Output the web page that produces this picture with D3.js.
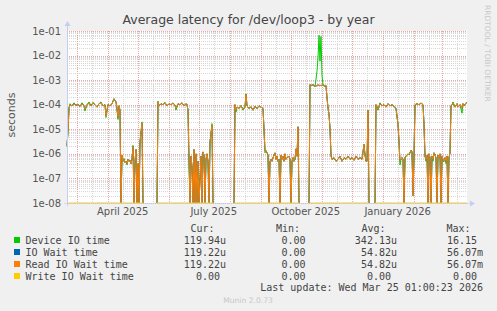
<!DOCTYPE html>
<html>
<head>
<meta charset="utf-8">
<script src="https://cdn.jsdelivr.net/npm/d3@7"></script>
<style>
body { margin: 0; background: #f0f0f0; }
svg { display: block; }
text { font-family: "DejaVu Sans", sans-serif; }
.mono { font-family: "DejaVu Sans Mono", monospace; font-size: 10px; fill: #444; white-space: pre; }
</style>
</head>
<body>
<script>
// day offsets from the start of the graph (one pixel ~ one day)
var days = [
    0, 1, 2, 3, 5, 7, 9, 11, 13, 15, 17, 18, 20, 22, 24, 26, 28, 30, 32, 34, 36, 38, 39, 41, 43, 45, 47, 49, 50, 51, 52, 53,
    54, 55, 56, 57, 58, 59, 60, 61, 62, 63, 64, 65, 66, 67, 68, 69, 70, 71, 72, 73, 75, 76, 77, 90,
    91, 92, 94, 96, 98, 100, 102, 104, 106, 108, 109, 111, 113, 115, 117, 119, 120, 121,
    122, 123, 124, 125, 126, 127, 128, 129, 130, 131, 132, 134, 135, 136, 137, 138, 139, 140, 141, 142, 143, 145, 146, 147, 167,
    168, 169, 170, 172, 174, 176, 178, 179, 180, 182, 184, 186, 188, 190, 192, 194, 196, 197,
    198, 199, 200, 201, 202, 203, 204, 205, 206, 208, 209, 210, 211, 212, 213, 214, 215, 216, 217, 218, 219, 220, 222, 223, 224, 225, 226, 227, 228, 229, 230, 231, 232, 233, 242,
    243, 244, 246, 248, 250, 251, 252, 253, 254, 255, 256, 257, 258, 259, 260, 261, 262, 263,
    264, 265, 267, 269, 271, 273, 275, 277, 279, 281, 283, 285, 287, 289, 291, 293, 295, 297, 298, 299, 300, 301, 302, 303, 308,
    309, 310, 311, 313, 315, 317, 319, 321, 323, 325, 327, 329, 331, 332, 333, 334, 335, 336, 337, 338, 339, 341, 342, 344, 345, 346, 347,
    348, 350, 352, 354, 356, 357, 358, 359, 360, 361, 362, 363, 364, 365, 366, 367, 368, 369, 370, 371, 372, 373, 374, 375, 376, 377, 378, 379, 380, 381, 382, 383,
    384, 385, 386, 388, 390, 391, 393, 395, 396, 397, 399, 400
];

var deviceIO = [
    2.2e-6, 9e-6, 8e-5, 1.1e-4, 9e-5, 1.2e-4, 9.5e-5, 1.05e-4, 8.5e-5, 1.2e-4, 9e-5, 5.5e-5, 1.0e-4, 1.3e-4, 9e-5, 1.25e-4, 1.0e-4, 8e-5, 1.1e-4, 1.3e-4, 9e-5, 1.0e-4, 3e-5, 1.05e-4, 9e-5, 1.1e-4, 1.8e-4, 1.3e-4, 6e-5, 2.5e-5, 9e-5, 6e-5,
    0, 7e-7, 5e-7, 6.5e-7, 4.5e-7, 5e-7, 3.5e-7, 6e-7, 5e-7, 5.5e-7, 4e-7, 6e-7, 2.2e-6, 0, 5e-7, 1.5e-6, 0, 4e-7, 0, 3e-6, 2e-5, 0, null, 0,
    1.4e-4, 9e-5, 1.1e-4, 1.0e-4, 1.25e-4, 9e-5, 1.1e-4, 1.0e-4, 1.2e-4, 9.5e-5, 6e-5, 1.1e-4, 1.0e-4, 1.2e-4, 9e-5, 1.1e-4, 1.0e-4, 6e-5,
    4e-7, 0, 8e-7, 3e-7, 0, 1.5e-6, 0, 1e-6, 0, 5e-7, 0, 8e-7, 0, 1.2e-6, 9e-7, 0, 6e-7, 1e-6, 5e-7, 0, 3e-6, 1.7e-5, 0, null, 0,
    1.0e-4, 5e-5, 8e-5, 7e-5, 9.5e-5, 6e-5, 8e-5, 2.8e-4, 9e-5, 7e-5, 8.5e-5, 6e-5, 8.5e-5, 7e-5, 9e-5, 8e-5, 7e-5, 1e-5,
    1.1e-6, 1.3e-6, 1.1e-6, 9e-7, 0, 5e-7, 6e-7, 5e-7, 7e-7, 1.1e-6, 6e-7, 8e-7, 5e-7, 6e-7, 0, 9e-7, 6e-7, 8e-7, 5e-7, 1e-6, 6e-7, 7e-7, 8e-7, 6e-7, 0, 5e-7, 7e-7, 5e-7, 6e-7, 1.6e-6, 8e-7, 1.3e-5, 0, null, 0,
    6.5e-4, 6e-4, 6.5e-4, 5.5e-4, 2.3e-3, 8e-3, 6.7e-2, 6e-3, 6e-2, 1.5e-3, 6.5e-4, 6e-4, 5.5e-4, 6e-4, 1.9e-4, 7.5e-5, 4e-5, 1.1e-5,
    1e-6, 6e-7, 7e-7, 5e-7, 6e-7, 8e-7, 5e-7, 7e-7, 6e-7, 8e-7, 6e-7, 7e-7, 5.5e-7, 8e-7, 6e-7, 7e-7, 6e-7, 2.4e-6, 9e-7, 5e-7, 5e-7, 6e-5, 0, null, 0,
    1.0e-4, 8e-5, 6e-5, 1.2e-4, 9e-5, 1.0e-4, 8e-5, 1.1e-4, 9e-5, 1.0e-4, 8.5e-5, 7e-5, 1.6e-5, 3e-6, 3.5e-7, 6e-7, 7e-7, 6e-7, 0, 7e-7, 8e-7, 1e-6, 9e-7, 1.4e-6, 1.2e-6, 2e-8, 8e-7,
    1.0e-4, 1.1e-4, 1.0e-4, 1.2e-4, 1.0e-4, 1.6e-5, 8e-7, 5e-7, 9e-7, 0, 1e-6, 7e-7, 0, 8e-7, 5e-7, 1.1e-6, 9e-7, 7e-7, 0, 9e-7, 7e-7, 1e-6, 0, 8e-7, 5e-7, 5e-7, 7e-7, 4e-7, 8e-7, 0, 7e-7, 1.1e-6,
    9e-5, 1.0e-4, 1.3e-4, 8e-5, 1.1e-4, 8e-5, 1.0e-4, 4.5e-5, 1.1e-4, 9e-5, 1.2e-4, 1.2e-4
];

var readWait = [
    2e-6, 8e-6, 7e-5, 1.0e-4, 9e-5, 1.1e-4, 9.5e-5, 1.0e-4, 8.5e-5, 1.1e-4, 9e-5, 6.5e-5, 1.0e-4, 1.15e-4, 9e-5, 1.2e-4, 1.0e-4, 8e-5, 1.1e-4, 1.2e-4, 9e-5, 1.0e-4, 3.5e-5, 1.0e-4, 9e-5, 1.1e-4, 1.7e-4, 1.3e-4, 7e-5, 3e-5, 9e-5, 6e-5,
    0, 9e-7, 5e-7, 6e-7, 4.5e-7, 5e-7, 4e-7, 6e-7, 5e-7, 5.5e-7, 4e-7, 6e-7, 2e-6, 0, 5e-7, 1.5e-6, 0, 4e-7, 0, 3e-6, 1.8e-5, 0, null, 0,
    1.3e-4, 9e-5, 1.1e-4, 1.0e-4, 1.2e-4, 9e-5, 1.1e-4, 1.0e-4, 1.15e-4, 9.5e-5, 7e-5, 1.1e-4, 1.0e-4, 1.2e-4, 9e-5, 1.1e-4, 1.0e-4, 6e-5,
    6e-7, 0, 8e-7, 3e-7, 0, 1.5e-6, 0, 1e-6, 0, 5e-7, 0, 8e-7, 0, 1.2e-6, 9e-7, 0, 6e-7, 1e-6, 5e-7, 0, 3e-6, 1.5e-5, 0, null, 0,
    1.0e-4, 6e-5, 8e-5, 7e-5, 9e-5, 6.5e-5, 8e-5, 2.7e-4, 9e-5, 7e-5, 8e-5, 6e-5, 8.5e-5, 7e-5, 9e-5, 8e-5, 7e-5, 1e-5,
    1.3e-6, 1.4e-6, 1.1e-6, 9e-7, 0, 5e-7, 6e-7, 5e-7, 7e-7, 1.1e-6, 6e-7, 8e-7, 5e-7, 6e-7, 0, 9e-7, 6e-7, 8e-7, 5e-7, 1e-6, 6e-7, 7e-7, 8e-7, 6e-7, 0, 5e-7, 7e-7, 5e-7, 6e-7, 1.6e-6, 8e-7, 1.2e-5, 0, null, 0,
    6.5e-4, 6e-4, 6.5e-4, 5.5e-4, 6e-4, 6.5e-4, 6e-4, 6e-4, 6.2e-4, 6e-4, 6.5e-4, 6e-4, 5.5e-4, 6e-4, 1.9e-4, 7.5e-5, 4e-5, 1.1e-5,
    8e-7, 6e-7, 7e-7, 5e-7, 6e-7, 8e-7, 5e-7, 7e-7, 6e-7, 8e-7, 6e-7, 7e-7, 5.5e-7, 8e-7, 6e-7, 7e-7, 6e-7, 2.4e-6, 9e-7, 5e-7, 5e-7, 6e-5, 0, null, 0,
    1.0e-4, 8e-5, 6.5e-5, 1.1e-4, 9e-5, 1.0e-4, 8e-5, 1.1e-4, 9e-5, 1.0e-4, 8.5e-5, 7e-5, 1.6e-5, 3e-6, 5e-7, 6e-7, 7e-7, 6e-7, 0, 7e-7, 8e-7, 1e-6, 9e-7, 1.4e-6, 1.2e-6, 2e-8, 8e-7,
    1.0e-4, 1.1e-4, 1.0e-4, 1.15e-4, 1.0e-4, 1.6e-5, 8e-7, 6e-7, 9e-7, 0, 1e-6, 7e-7, 0, 8e-7, 6e-7, 1.1e-6, 9e-7, 7e-7, 0, 9e-7, 7e-7, 1e-6, 0, 8e-7, 6e-7, 5e-7, 7e-7, 5e-7, 8e-7, 0, 7e-7, 1.1e-6,
    9e-5, 1.0e-4, 1.2e-4, 8e-5, 1.1e-4, 8e-5, 1.0e-4, 7e-5, 1.1e-4, 9e-5, 1.2e-4, 1.19e-4
];

// IO wait is the same as read wait (same cur/avg/max), write wait is always 0
var ioWait = readWait.slice();
var writeWait = readWait.map(function (v) { return v === null ? null : 0; });

var seriesNames = ["Device IO time", "IO Wait time", "Read IO Wait time", "Write IO Wait time"];
var seriesColors = ["#00cc00", "#0066b3", "#ff8000", "#ffcc00"];
var curValues = ["119.94u", "119.22u", "119.22u", "0.00 "];
var minValues = ["0.00 ", "0.00 ", "0.00 ", "0.00 "];
var avgValues = ["342.13u", "54.82u", "54.82u", "0.00 "];
var maxValues = ["16.15 ", "56.07m", "56.07m", "0.00 "];
var yTickValues = [1e-8, 1e-7, 1e-6, 1e-5, 1e-4, 1e-3, 1e-2, 1e-1];

var w = 497;
var h = 311;
var plotLeft = 67, plotRight = 467, plotTop = 31, plotBottom = 203;

var start = new Date(Date.UTC(2025, 1, 19, 7));
var end = d3.utcDay.offset(start, 400);

var x = d3.scaleUtc().domain([start, end]).range([plotLeft, plotRight]);
var y = d3.scaleLog().domain([1e-8, 1e-1]).range([plotBottom, plotTop]);

var yv = function (v) { return y(Math.max(v, 1e-8)); };

var svg = d3.select("body")
    .append("svg")
    .attr("width", w)
    .attr("height", h);

svg.append("rect")
    .attr("x", 0).attr("y", 0)
    .attr("width", w).attr("height", h)
    .attr("fill", "#f0f0f0");

svg.append("rect")
    .attr("x", plotLeft).attr("y", plotTop)
    .attr("width", plotRight - plotLeft).attr("height", plotBottom - plotTop)
    .attr("fill", "#ffffff");

// minor horizontal grid
var minorY = [];
yTickValues.slice(0, -1).forEach(function (d) {
    for (var m = 2; m <= 9; m++) minorY.push(d * m);
});

svg.selectAll(".hminor")
    .data(minorY)
    .enter()
    .append("line")
    .attr("x1", plotLeft).attr("x2", plotRight)
    .attr("y1", function (d) { return Math.round(y(d)) + 0.5; })
    .attr("y2", function (d) { return Math.round(y(d)) + 0.5; })
    .attr("stroke", "#d8d8d8")
    .attr("stroke-dasharray", "1,1");

// vertical grid: mid month grey, month start red
var midMonths = d3.utcMonth.range(d3.utcMonth.floor(start), end)
    .map(function (m) { return d3.utcDay.offset(m, 15); })
    .filter(function (d) { return d > start && d < end; });

svg.selectAll(".vminor")
    .data(midMonths)
    .enter()
    .append("line")
    .attr("x1", function (d) { return Math.round(x(d)) + 0.5; })
    .attr("x2", function (d) { return Math.round(x(d)) + 0.5; })
    .attr("y1", plotTop).attr("y2", plotBottom)
    .attr("stroke", "#d8d8d8")
    .attr("stroke-dasharray", "1,1");

svg.selectAll(".vmajor")
    .data(d3.utcMonth.range(start, end))
    .enter()
    .append("line")
    .attr("x1", function (d) { return Math.round(x(d)) + 0.5; })
    .attr("x2", function (d) { return Math.round(x(d)) + 0.5; })
    .attr("y1", plotTop).attr("y2", plotBottom)
    .attr("stroke", "#eba5a5")
    .attr("stroke-dasharray", "1,1");

svg.selectAll(".hmajor")
    .data(yTickValues)
    .enter()
    .append("line")
    .attr("x1", plotLeft).attr("x2", plotRight)
    .attr("y1", function (d) { return Math.round(y(d)) + 0.5; })
    .attr("y2", function (d) { return Math.round(y(d)) + 0.5; })
    .attr("stroke", "#eba5a5")
    .attr("stroke-dasharray", "1,1");

// y labels
svg.selectAll(".ylabel")
    .data(yTickValues)
    .enter()
    .append("text")
    .attr("x", 61)
    .attr("y", function (d) { return y(d) + 3.6; })
    .attr("text-anchor", "end")
    .attr("font-size", "10px")
    .attr("fill", "#555")
    .text(function (d) { return d3.format(".0e")(d).replace(/e-(\d)$/, "e-0$1"); });

// x labels, centered in the middle of the month
svg.selectAll(".xlabel")
    .data(d3.utcMonth.every(3).range(start, end))
    .enter()
    .append("text")
    .attr("x", function (d) { return x(d3.utcDay.offset(d, 15)); })
    .attr("y", 215)
    .attr("text-anchor", "middle")
    .attr("font-size", "10px")
    .attr("fill", "#555")
    .text(d3.utcFormat("%B %Y"));

// data lines
var line = d3.line()
    .defined(function (d) { return d.v !== null; })
    .x(function (d) { return x(d.t); })
    .y(function (d) { return yv(d.v); });

var allSeries = [deviceIO, ioWait, readWait, writeWait];

allSeries.forEach(function (values, k) {
    var rows = days.map(function (d, i) {
        return { t: d3.utcDay.offset(start, d), v: values[i] };
    });
    svg.append("path")
        .datum(rows)
        .attr("d", line)
        .attr("fill", "none")
        .attr("stroke", seriesColors[k])
        .attr("stroke-width", 1);
});

// axes with arrows
var axisColor = "#c5cdf0";
svg.append("line")
    .attr("x1", plotLeft + 0.5).attr("x2", plotLeft + 0.5)
    .attr("y1", plotBottom + 3).attr("y2", plotTop - 6)
    .attr("stroke", axisColor);
svg.append("path")
    .attr("d", "M" + (plotLeft - 2.5) + "," + (plotTop - 5) + "L" + (plotLeft + 3.5) + "," + (plotTop - 5) + "L" + (plotLeft + 0.5) + "," + (plotTop - 10) + "Z")
    .attr("fill", axisColor);
svg.append("line")
    .attr("x1", plotLeft - 3).attr("x2", plotRight + 4)
    .attr("y1", plotBottom + 0.5).attr("y2", plotBottom + 0.5)
    .attr("stroke", axisColor)
    .attr("stroke-opacity", 0.6);
svg.append("path")
    .attr("d", "M" + (plotRight + 3) + "," + (plotBottom - 2.5) + "L" + (plotRight + 3) + "," + (plotBottom + 3.5) + "L" + (plotRight + 8) + "," + (plotBottom + 0.5) + "Z")
    .attr("fill", axisColor);

// title and side texts
svg.append("text")
    .attr("x", 248.5)
    .attr("y", 24)
    .attr("text-anchor", "middle")
    .attr("font-size", "12.5px")
    .attr("fill", "#444")
    .text("Average latency for /dev/loop3 - by year");

svg.append("text")
    .attr("transform", "translate(15,115) rotate(-90)")
    .attr("text-anchor", "middle")
    .attr("font-size", "11px")
    .attr("fill", "#555")
    .text("seconds");

svg.append("text")
    .attr("transform", "translate(485,5) rotate(90)")
    .attr("font-size", "7.5px")
    .attr("fill", "#c8c8c8")
    .text("RRDTOOL / TOBI OETIKER");

// legend
var headers = [["Cur:", 190.5], ["Min:", 276], ["Avg:", 361.5], ["Max:", 446.5]];
headers.forEach(function (hd) {
    svg.append("text").attr("class", "mono")
        .attr("x", hd[1]).attr("y", 231.5)
        .text(hd[0]);
});

var columnEnds = [226, 311.5, 397, 483];
var columns = [curValues, minValues, avgValues, maxValues];

seriesNames.forEach(function (name, i) {
    var cy = 240 + i * 12;
    svg.append("rect")
        .attr("x", 14).attr("y", cy - 3)
        .attr("width", 6).attr("height", 6)
        .attr("fill", seriesColors[i]);
    svg.append("text").attr("class", "mono")
        .attr("x", 25.5).attr("y", cy + 3.6)
        .text(name);
    columns.forEach(function (col, c) {
        svg.append("text").attr("class", "mono")
            .attr("x", columnEnds[c]).attr("y", cy + 3.6)
            .attr("text-anchor", "end")
            .text(col[i]);
    });
});

svg.append("text").attr("class", "mono")
    .attr("x", 483).attr("y", 291.3)
    .attr("text-anchor", "end")
    .text("Last update: Wed Mar 25 01:00:23 2026");

svg.append("text")
    .attr("x", 248)
    .attr("y", 303)
    .attr("text-anchor", "middle")
    .attr("font-size", "7.6px")
    .attr("fill", "#c8c8c8")
    .text("Munin 2.0.73");
</script>
</body>
</html>
